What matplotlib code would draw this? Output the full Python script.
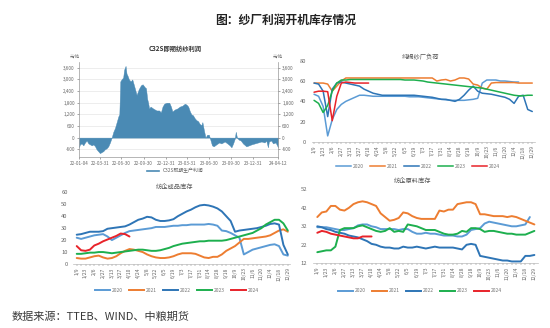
import matplotlib
matplotlib.use("Agg")
import matplotlib.pyplot as plt
import matplotlib.dates as mdates
from matplotlib.lines import Line2D
from matplotlib.ticker import FuncFormatter
import pandas as pd
import numpy as np

plt.rcParams['font.family'] = ['Noto Sans CJK SC', 'DejaVu Sans']

# ---------------- data ----------------
profit_dates = ["2022-01-04","2022-01-08","2022-01-15","2022-01-22","2022-01-29","2022-02-05","2022-02-12",
    "2022-02-19","2022-02-26","2022-03-05","2022-03-12","2022-03-18","2022-03-25","2022-04-01","2022-04-08",
    "2022-04-15","2022-04-22","2022-04-29","2022-05-06","2022-05-13","2022-05-20","2022-05-27","2022-06-03",
    "2022-06-10","2022-06-17","2022-06-21","2022-06-25","2022-06-30","2022-07-07","2022-07-11","2022-07-17",
    "2022-07-21","2022-07-25","2022-07-31","2022-08-07","2022-08-14","2022-08-21","2022-09-01","2022-09-10",
    "2022-09-19","2022-09-26","2022-10-05","2022-10-10","2022-10-15","2022-10-19","2022-10-23","2022-10-29",
    "2022-11-09","2022-11-23","2022-12-04","2022-12-11","2022-12-18","2022-12-25","2023-01-04","2023-01-15",
    "2023-01-22","2023-01-28","2023-02-07","2023-02-17","2023-02-28","2023-03-11","2023-03-21","2023-03-28",
    "2023-04-04","2023-04-11","2023-04-17","2023-04-24","2023-05-01","2023-05-08","2023-05-15","2023-05-22",
    "2023-05-29","2023-06-02","2023-06-08","2023-06-15","2023-06-22","2023-06-29","2023-07-05","2023-07-12",
    "2023-07-19","2023-07-30","2023-08-11","2023-08-20","2023-09-03","2023-09-14","2023-09-24","2023-10-01",
    "2023-10-08","2023-10-15","2023-10-19","2023-10-24","2023-10-31","2023-11-09","2023-11-18","2023-12-02",
    "2023-12-13","2023-12-23","2024-01-06","2024-01-20","2024-02-03","2024-02-16","2024-02-23","2024-03-01",
    "2024-03-05","2024-03-15","2024-03-22","2024-04-02","2024-04-12"]
profit_values = [-500,-350,-300,-400,-250,-150,-300,
    -350,-400,-350,-450,-600,-700,-800,-750,
    -700,-600,-550,-450,-250,0,300,500,
    800,1100,1200,2900,3000,3100,3500,3700,
    3300,3200,3000,2900,3000,2700,2200,2500,
    2700,2750,2600,2550,2000,1800,1500,1600,
    1500,1400,1400,1300,1600,1750,1800,1800,
    1600,1350,1450,1500,1600,1650,1750,1700,
    1600,1350,1200,1150,1000,900,850,700,
    650,800,400,0,150,150,-100,-400,
    -450,-350,-250,-300,-200,-300,-400,-500,
    -300,-50,300,0,-100,-150,-300,-450,
    -400,-350,-300,-250,-200,-250,-150,-500,
    -200,-150,-300,-250,-500]
profit_ticks = ["2022-01-04","2022-03-31","2022-06-30","2022-09-30","2022-12-31",
                "2023-03-31","2023-06-30","2023-09-30","2023-12-31","2024-04-12"]

week_labels = ["1/9","1/23","2/6","2/27","3/13","3/27","4/10","4/24","5/8","5/22","6/5","6/19",
               "7/3","7/17","7/31","8/14","8/28","9/18","10/9","10/23","11/6","11/20","12/4","12/18","12/29"]
years = ["2020", "2021", "2022", "2023", "2024"]

N = None
load_2020 = [47,45,35,6,22,32,37,40,42,44, 46,46,45.5,45,45,45,45,45,45,45,
             45,44.5,44.5,44.5,44,43.5,43,42.5,42,41.5, 41,41,41,41,41.5,42,43,58,61,61,
             61,60,60,59.5,59,59,N,N,N]
load_2021 = [58,58,58,57,50,55,60,63,63,63, 63,63,63,63,63,63,63,63,63,63,
             63,63,63,63,63,63,63,60,61,61.5, 60,61,63,63,62,57,56,53,52,58,
             58.5,58.5,58.5,58.5,58.5,58,58,58,58]
load_2022 = [58,57,50,25,52,58,59,58,57,56, 55,52,50,48,47,46,46,46,46,46,
             46,46,46,45.5,45,44.5,44,43,42,42, 41,40,42,46,51,55,50,48,47.5,47,
             46,45,44,42,38,45,46,32,30]
load_2023 = [41,38,29,36,50,58,61,61,61.5,61.5, 61.5,61.5,61.5,61.5,61.5,61.5,61.5,61.5,61.5,61.5,
             61,61,61,60.5,60,59,58.5,58,57.5,57, 56.5,56,55.5,55,54.5,54,53.5,53,52,51,
             50,49,48,47,46,45.5,45.5,46,46]
load_2024 = [49,50,50,49.5,21,45,58,59,58.5,58,58,58,58] + [N]*36

fg_2020 = [22,21,22,23,24,24.5,25,23,20,22, 24,26,27.5,28,28.5,29,29.5,30,31,31,
           31,31.5,32,32,32.5,32.5,33,33,33,33, 33.5,33,32,28,27.5,26,24,22,8,10,
           12,13,14,15,16,16.5,15,8,7]
fg_2021 = [5,4.5,4.5,5.5,6.5,7,5.5,4.5,5,6.5, 9,11,12.5,12,11,10,8,6.5,5.5,5,
           5,5.5,6.5,8,9,9,9,8.5,7,5.5, 5,6,6,8,11,13,15,18,21,21,
           21.5,22,22.5,23,24,26,28,29,27]
fg_2022 = [24.5,25,26,27,27,27,27.5,29.5,30,30.5, 31,31.5,33,35,37,38,39.5,39,37,36,
           36,36.5,37.5,40,42,44,45.5,47.5,49,49.5, 49,48,46.5,44,40,36,27,28,28.5,29,
           29.5,30,31,32,33.5,34,33,16,8]
fg_2023 = [8.5,8.5,9,9.5,9.5,10,10,9.5,9,9.5, 10,10.5,11,11.5,12,12,11.5,11,11,11.5,
           12.5,13.5,15,16,17,17.5,18,18.5,19,19, 19.5,19.5,19.5,19.5,20,21,22,23,24,25,
           26,28,30,33,35,37,37,34,28]
fg_2024 = [15,11.5,11,12,15.5,17,19,20.5,22,23.5,25.5,25,23] + [N]*36

rm_2020 = [31.5,31.5,31.5,31,30.5,30,30,30.5,31,32.5, 33,33,32,31.5,30.5,30.5,30.5,30.5,30,30.5,
           30.5,29,28,28,28.5,28,28,27.5,27,27, 27,26.5,26.5,27.5,30,30.5,31,33.5,34.5,34,
           33.5,33,32.5,32,32,32.5,33,37,N]
rm_2021 = [37,39.5,40,43,43,41,40.5,42,44,45, 45.5,45,44,43,39,37,35,35.5,36.5,39.5,
           39,37.5,36.5,36,36,36,36,40.5,40,41, 41,44,44.5,45,45,44,38.5,38.5,38,37.5,
           37.5,37.5,37,37.5,37,36,35,34,33]
rm_2022 = [32,31.5,30.5,30,29,28.5,28,27,26.5,26, 25,24,22.5,22,21,20.5,20.5,20,20,21,
           20.5,20.5,21,20.5,20,20.5,21,20.5,20.5,20.5, 20.5,20,19.5,22,22.5,22,16,15.5,15,14.5,
           14,13.5,13.5,13,13,13,16,16,16.5]
rm_2023 = [18,18.5,19,19,21,30,31,31,31,32, 32.5,31.5,30.5,29.5,29,29.5,31,29,29.5,29,
           33,32.5,32,31,30,30,30,29,28,27.5, 27.5,28,29.5,29,31,31,30.5,29,29.5,29.5,
           29,28.5,28,28,27.5,27.5,27.5,28.5,29.5]
rm_2024 = [28.5,29.5,29,28,27.5,27,26.5,26,25.5,25.5,26.5,26.5,26.5] + [N]*36

colors = ['#5B9BD5', '#ED7D31', '#2E75B6', '#1DAF4E', '#E8232A']
fill_color = '#4A8AB4'
tick_c = '#666666'
W, H = 550, 328

def rect(x0, y0, x1, y1):
    return [x0 / W, 1 - y1 / H, (x1 - x0) / W, (y1 - y0) / H]

fig = plt.figure(figsize=(5.5, 3.28), dpi=100)

fig.text(286 / W, 1 - 20 / H, "图：纱厂利润开机库存情况", ha='center', va='center',
         fontsize=8.5, fontweight='bold', color='#222222')
fig.text(12 / W, 1 - 317 / H, "数据来源：TTEB、WIND、中粮期货", ha='left', va='center',
         fontsize=8, style='italic', color='#3a3a3a')

# ---------------- top-left: profit ----------------
ax1 = fig.add_axes(rect(79, 62, 278, 157))
d = pd.to_datetime(profit_dates)
v = np.array(profit_values, dtype=float)
ax1.fill_between(d, v, 0, color=fill_color, lw=0.3, edgecolor=fill_color)
ax1.set_ylim(-1000, 3900)
yt = list(range(-600, 3601, 600))
ax1.set_yticks(yt)
fmt = FuncFormatter(lambda x, p: f"{int(x):,}")
ax1.yaxis.set_major_formatter(fmt)
ax1.set_xlim(pd.Timestamp(profit_ticks[0]), pd.Timestamp(profit_ticks[-1]))
ax1.set_xticks(pd.to_datetime(profit_ticks))
ax1.xaxis.set_major_formatter(mdates.DateFormatter('%y-%m-%d'))
ax1.grid(axis='y', color='#e6e6e6', lw=0.5)
ax1.set_axisbelow(True)
ax1.tick_params(labelsize=3.3, colors=tick_c, length=1.5, width=0.4, pad=1.5)
ax1.spines['top'].set_visible(False)
for s in ['left', 'right', 'bottom']:
    ax1.spines[s].set_color('#999999')
    ax1.spines[s].set_linewidth(0.5)
ax1b = ax1.twinx()
ax1b.set_ylim(ax1.get_ylim())
ax1b.set_yticks(yt)
ax1b.yaxis.set_major_formatter(fmt)
ax1b.tick_params(labelsize=3.3, colors=tick_c, length=1.5, width=0.4, pad=1.5)
for s in ['top', 'left', 'bottom', 'right']:
    ax1b.spines[s].set_visible(False)
fig.text(175 / W, 1 - 49 / H, "C32S即期纺纱利润", ha='center', va='center',
         fontsize=4.5, fontweight='bold', color='#333333')
fig.text(75 / W, 1 - 56 / H, "元/吨", ha='center', va='center', fontsize=3, color=tick_c)
fig.text(278 / W, 1 - 56 / H, "元/吨", ha='center', va='center', fontsize=3, color=tick_c)
fig.legend(handles=[Line2D([], [], color=fill_color, lw=1.2)], labels=["C32S即期生产利润"],
           loc='center', bbox_to_anchor=(175 / W, 1 - 171 / H), frameon=False,
           fontsize=3.5, handlelength=2.5, labelcolor=tick_c)

# ---------------- helper for weekly charts ----------------
def weekly(ax, series, lw, ylim, yticks, xlim):
    x = np.arange(len(series[0]))
    for s, c in zip(series, colors):
        arr = np.array([np.nan if t is None else t for t in s], dtype=float)
        ax.plot(x, arr, color=c, lw=lw, solid_capstyle='round')
    ax.set_ylim(*ylim)
    ax.set_yticks(yticks)
    ax.set_xlim(*xlim)
    ax.set_xticks(np.arange(0, len(series[0]), 2))
    ax.set_xticklabels(week_labels, rotation=90)
    ax.set_xticks(np.arange(len(series[0])), minor=True)
    ax.tick_params(axis='x', labelsize=3.6, colors=tick_c, length=1.5, width=0.3, pad=1)
    ax.tick_params(axis='x', which='minor', length=1.5, width=0.3, color=tick_c)
    ax.tick_params(axis='y', labelsize=4.2, colors=tick_c, length=0, pad=4)
    for sp in ['top', 'left', 'right']:
        ax.spines[sp].set_visible(False)
    ax.spines['bottom'].set_color('#bbbbbb')
    ax.spines['bottom'].set_linewidth(0.5)

def year_legend(x, y, lw):
    handles = [Line2D([], [], color=c, lw=lw) for c in colors]
    fig.legend(handles=handles, labels=years, loc='center', bbox_to_anchor=(x / W, 1 - y / H),
               ncol=5, frameon=False, fontsize=3.6, handlelength=3.0, columnspacing=1.3,
               handletextpad=0.3, labelcolor='#777777')

# ---------------- top-right: load ----------------
ax2 = fig.add_axes(rect(312, 60.7, 535, 142))
weekly(ax2, [load_2020, load_2021, load_2022, load_2023, load_2024], 1.1,
       (0, 80), [0, 20, 40, 60, 80], (-0.45, 48.6))
fig.text(420 / W, 1 - 57 / H, "纯棉纱厂负荷", ha='center', va='center', fontsize=4.5, color='#555555')
year_legend(418, 166, 1.1)

# ---------------- bottom-left: finished goods ----------------
ax3 = fig.add_axes(rect(73.2, 192.3, 290, 264))
weekly(ax3, [fg_2020, fg_2021, fg_2022, fg_2023, fg_2024], 1.4,
       (0, 60), [0, 10, 20, 30, 40, 50, 60], (-0.8, 48.5))
fig.text(175 / W, 1 - 188 / H, "纺企成品库存", ha='center', va='center', fontsize=4.5, color='#555555')
year_legend(177, 290, 1.4)

# ---------------- bottom-right: raw materials ----------------
ax4 = fig.add_axes(rect(313, 189.3, 538, 263.3))
weekly(ax4, [rm_2020, rm_2021, rm_2022, rm_2023, rm_2024], 1.4,
       (12, 52), [12, 22, 32, 42, 52], (-0.95, 48.8))
fig.text(413 / W, 1 - 182 / H, "纺企原料库存", ha='center', va='center', fontsize=4.5, color='#555555')
year_legend(420, 291, 1.4)

fig.savefig("out.png", dpi=100)
